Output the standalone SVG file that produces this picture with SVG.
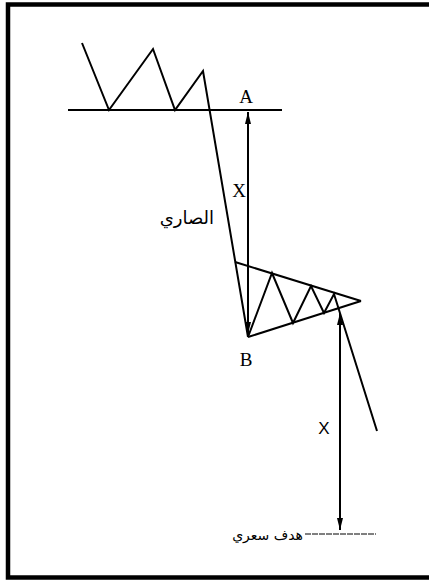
<svg xmlns="http://www.w3.org/2000/svg" width="429" height="580" viewBox="0 0 429 580">
<style>
.ln{fill:none;stroke:#000;stroke-width:2;stroke-linejoin:miter}
.ar{fill:none;stroke:#000;stroke-width:2}
.thin{fill:none;stroke:#000;stroke-width:1;stroke-dasharray:6 1}
.lbl{font-family:"Liberation Serif",serif;font-size:19px;fill:#000}
.lbs{font-family:"Liberation Sans",sans-serif;font-size:17px;fill:#000}
.ara{font-family:"DejaVu Sans","Noto Sans",sans-serif;fill:#000}
</style>
<defs>
<marker id="ah" viewBox="0 0 12 6" refX="12" refY="3" markerWidth="12" markerHeight="6" markerUnits="userSpaceOnUse" orient="auto">
<path d="M0,0 L12,3 L0,6 Z" fill="#000"/>
</marker>
</defs>
<rect x="8" y="4.5" width="436" height="573" fill="#fff" stroke="#000" stroke-width="4.5"/>
<g id="connectors">
<polyline id="price" class="ln" points="82,43 109,110 153,49 175,110 203,71 248,337"/>
<line id="support" class="ln" x1="68" y1="110" x2="282" y2="110"/>
<line id="tri-top" class="ln" x1="235" y1="262" x2="361" y2="301"/>
<line id="tri-bottom" class="ln" x1="248" y1="337" x2="361" y2="301"/>
<polyline id="zigzag" class="ln" points="248,337 272,273 293,323 311,286 324,313 334,294 377,431"/>
<line id="arrow-x1" class="ar" x1="248" y1="224" x2="248" y2="112" marker-end="url(#ah)"/>
<line id="arrow-x1b" class="ar" x1="248" y1="224" x2="248" y2="334" marker-end="url(#ah)"/>
<line id="arrow-x2" class="ar" x1="340" y1="420" x2="340" y2="313" marker-end="url(#ah)"/>
<line id="arrow-x2b" class="ar" x1="340" y1="420" x2="340" y2="530" marker-end="url(#ah)"/>
<line id="target-line" class="thin" x1="305" y1="534" x2="376" y2="534"/>
</g>
<g id="label-A"><text class="lbl" x="246" y="103" text-anchor="middle">A</text></g>
<g id="label-B"><text class="lbl" x="246" y="366" text-anchor="middle">B</text></g>
<g id="label-x1"><text class="lbl" x="239" y="197" text-anchor="middle">X</text></g>
<g id="label-x2"><text class="lbs" x="324" y="434" text-anchor="middle">X</text></g>
<g id="label-mast"><text class="ara" x="214" y="224" font-size="18" text-anchor="end">الصاري</text></g>
<g id="label-target"><text class="ara" x="303" y="540" font-size="14" text-anchor="end">هدف سعري</text></g>
</svg>
